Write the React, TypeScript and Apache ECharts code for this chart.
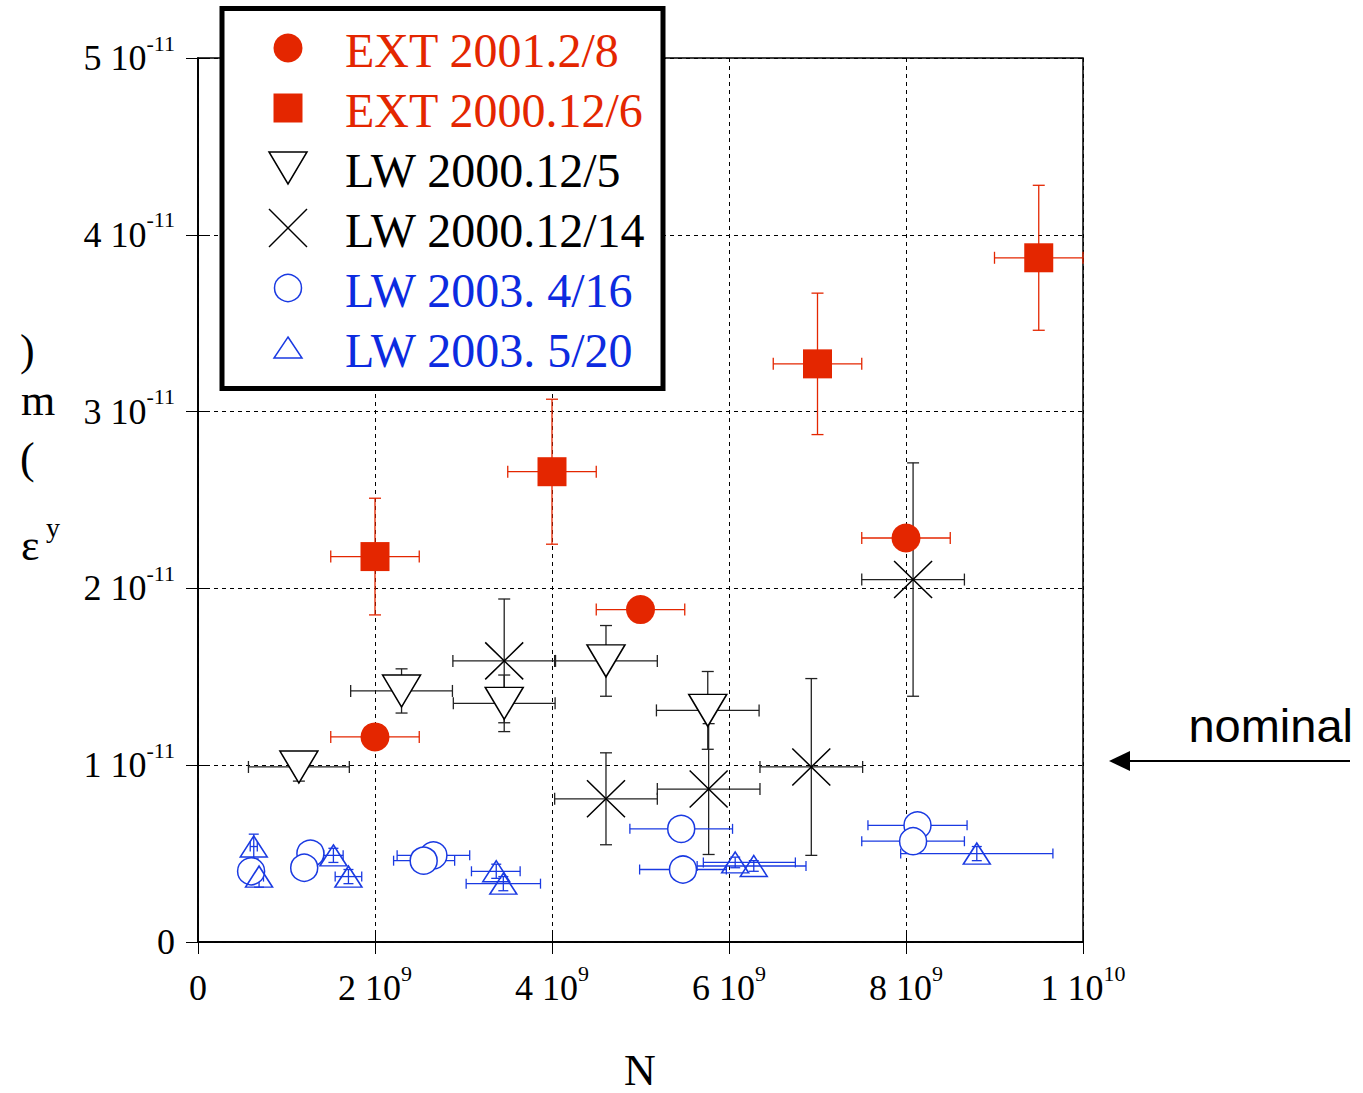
import React, { useEffect, useRef } from 'react';
import * as echarts from 'echarts';

// Units: N in 1e9 particles, emittance in 1e-11 m
const xTickValues = [0, 2, 4, 6, 8, 10];
const xTickMantissa = ['0', '2', '4', '6', '8', '1'];
const xTickExponent = ['', '9', '9', '9', '9', '10'];
const yTickValues = [0, 1, 2, 3, 4, 5];
const yTickMantissa = ['0', '1', '2', '3', '4', '5'];
const yTickExponent = ['', '-11', '-11', '-11', '-11', '-11'];

const legendNames = ['EXT 2001.2/8', 'EXT 2000.12/6', 'LW 2000.12/5', 'LW 2000.12/14', 'LW 2003. 4/16', 'LW 2003. 5/20'];

// EXT 2001.2/8
const ext2001N = [2.0, 5.0, 8.0];
const ext2001Eps = [1.16, 1.88, 2.285];
const ext2001NMinus = [0.5, 0.5, 0.5];
const ext2001NPlus = [0.5, 0.5, 0.5];
const ext2001EpsErr = [0, 0, 0];

// EXT 2000.12/6
const ext2000N = [2.0, 4.0, 7.0, 9.5];
const ext2000Eps = [2.18, 2.66, 3.27, 3.87];
const ext2000NMinus = [0.5, 0.5, 0.5, 0.5];
const ext2000NPlus = [0.5, 0.5, 0.5, 0.5];
const ext2000EpsErr = [0.33, 0.41, 0.4, 0.41];

// LW 2000.12/5
const lw5N = [1.14, 2.3, 3.46, 4.61, 5.76];
const lw5Eps = [0.99, 1.42, 1.35, 1.59, 1.31];
const lw5NMinus = [0.57, 0.575, 0.575, 0.58, 0.58];
const lw5NPlus = [0.57, 0.575, 0.575, 0.58, 0.58];
const lw5EpsErr = [0.08, 0.125, 0.16, 0.2, 0.22];

// LW 2000.12/14
const lw14N = [3.46, 4.61, 5.77, 6.93, 8.08];
const lw14Eps = [1.59, 0.81, 0.865, 0.99, 2.05];
const lw14NMinus = [0.58, 0.58, 0.58, 0.58, 0.58];
const lw14NPlus = [0.58, 0.58, 0.58, 0.58, 0.58];
const lw14EpsErr = [0.35, 0.26, 0.37, 0.5, 0.66];

// LW 2003. 4/16
const lw416N = [0.6, 1.27, 1.2, 2.66, 2.55, 5.46, 5.48, 8.13, 8.08];
const lw416Eps = [0.4, 0.5, 0.42, 0.49, 0.46, 0.64, 0.41, 0.66, 0.57];
const lw416NMinus = [0.05, 0.12, 0.12, 0.41, 0.34, 0.58, 0.49, 0.56, 0.58];
const lw416NPlus = [0.05, 0.12, 0.12, 0.41, 0.35, 0.58, 0.49, 0.56, 0.58];
const lw416EpsErr = [0.03, 0.03, 0.03, 0.03, 0.03, 0.03, 0.03, 0.03, 0.03];

// LW 2003. 5/20
const lw520N = [0.63, 0.69, 1.53, 1.7, 3.37, 3.45, 6.07, 6.28, 8.8];
const lw520Eps = [0.54, 0.37, 0.49, 0.37, 0.4, 0.33, 0.45, 0.43, 0.5];
const lw520NMinus = [0.04, 0.05, 0.11, 0.15, 0.28, 0.42, 0.36, 0.64, 0.86];
const lw520NPlus = [0.04, 0.05, 0.11, 0.15, 0.27, 0.42, 0.68, 0.59, 0.86];
const lw520EpsErr = [0.07, 0.06, 0.04, 0.04, 0.04, 0.04, 0.03, 0.03, 0.04];

const RED = '#e42600';
const BLUE = '#1a3ae2';
const BLUE_TEXT = '#0c2be0';
const BLACK = '#000000';
const SERIF = '"Liberation Serif", "Times New Roman", serif';

function errData(n: number[], eps: number[], nm: number[], np: number[], ee: number[]) {
  return n.map((v, i) => [v, eps[i], v - nm[i], v + np[i], eps[i] - ee[i], eps[i] + ee[i]]);
}

function errSeries(name: string, data: number[][], color: string, cap: number) {
  return {
    type: 'custom',
    name: name + ' err',
    z: 2,
    silent: true,
    encode: { x: [0, 2, 3], y: [1, 4, 5] },
    data,
    renderItem: (params: any, api: any) => {
      const x = api.value(0);
      const y = api.value(1);
      const l = api.coord([api.value(2), y]);
      const r = api.coord([api.value(3), y]);
      const b = api.coord([x, api.value(4)]);
      const t = api.coord([x, api.value(5)]);
      const style = { stroke: color, lineWidth: 1.3, fill: 'none' };
      const children: any[] = [];
      if (api.value(3) > api.value(2)) {
        children.push({ type: 'line', shape: { x1: l[0], y1: l[1], x2: r[0], y2: r[1] }, style });
        children.push({ type: 'line', shape: { x1: l[0], y1: l[1] - cap, x2: l[0], y2: l[1] + cap }, style });
        children.push({ type: 'line', shape: { x1: r[0], y1: r[1] - cap, x2: r[0], y2: r[1] + cap }, style });
      }
      if (api.value(5) > api.value(4)) {
        children.push({ type: 'line', shape: { x1: b[0], y1: b[1], x2: t[0], y2: t[1] }, style });
        children.push({ type: 'line', shape: { x1: b[0] - cap, y1: b[1], x2: b[0] + cap, y2: b[1] }, style });
        children.push({ type: 'line', shape: { x1: t[0] - cap, y1: t[1], x2: t[0] + cap, y2: t[1] }, style });
      }
      return { type: 'group', children };
    },
  };
}

function pts(n: number[], eps: number[]) {
  return n.map((v, i) => [v, eps[i]]);
}

const richLabel = {
  b: { fontFamily: SERIF, fontSize: 36, color: '#000', lineHeight: 52 },
  s: { fontFamily: SERIF, fontSize: 22, color: '#000', lineHeight: 20, verticalAlign: 'top' },
};

export default function App() {
  const ref = useRef<HTMLDivElement>(null);

  useEffect(() => {
    if (!ref.current) return;
    const chart = echarts.init(ref.current, undefined, { renderer: 'svg' });

    const rowY = [48, 108, 168, 228, 288, 348];
    const symX = 288;
    const textX = 345;
    const legendColors = [RED, RED, BLACK, BLACK, BLUE_TEXT, BLUE_TEXT];

    const legendGraphics: any[] = [
      {
        type: 'rect',
        z: 100,
        shape: { x: 222, y: 8.5, width: 441, height: 380 },
        style: { fill: '#fff', stroke: '#000', lineWidth: 5 },
      },
      { type: 'circle', z: 101, shape: { cx: symX, cy: rowY[0], r: 14.5 }, style: { fill: RED } },
      { type: 'rect', z: 101, shape: { x: symX - 14.5, y: rowY[1] - 14.5, width: 29, height: 29 }, style: { fill: RED } },
      {
        type: 'polygon', z: 101,
        shape: { points: [[symX - 19, rowY[2] - 16], [symX + 19, rowY[2] - 16], [symX, rowY[2] + 16]] },
        style: { fill: '#fff', stroke: BLACK, lineWidth: 1.5 },
      },
      { type: 'line', z: 101, shape: { x1: symX - 19, y1: rowY[3] - 19, x2: symX + 19, y2: rowY[3] + 19 }, style: { stroke: BLACK, lineWidth: 1.5 } },
      { type: 'line', z: 101, shape: { x1: symX + 19, y1: rowY[3] - 19, x2: symX - 19, y2: rowY[3] + 19 }, style: { stroke: BLACK, lineWidth: 1.5 } },
      { type: 'circle', z: 101, shape: { cx: symX, cy: rowY[4], r: 13.5 }, style: { fill: '#fff', stroke: BLUE, lineWidth: 1.5 } },
      {
        type: 'polygon', z: 101,
        shape: { points: [[symX, rowY[5] - 11], [symX + 14, rowY[5] + 10], [symX - 14, rowY[5] + 10]] },
        style: { fill: '#fff', stroke: BLUE, lineWidth: 1.5 },
      },
      ...legendNames.map((nm, i) => ({
        type: 'text',
        z: 101,
        x: textX,
        y: rowY[i] + 2,
        style: { text: nm, fontFamily: SERIF, fontSize: 48, fill: legendColors[i], align: 'left', verticalAlign: 'middle' },
      })),
    ];

    const titleGraphics: any[] = [
      { type: 'text', x: 20, y: 350, style: { text: ')', fontFamily: SERIF, fontSize: 44, fill: '#000', verticalAlign: 'middle' } },
      { type: 'text', x: 21, y: 400, style: { text: 'm', fontFamily: SERIF, fontSize: 44, fill: '#000', verticalAlign: 'middle' } },
      { type: 'text', x: 20, y: 458, style: { text: '(', fontFamily: SERIF, fontSize: 44, fill: '#000', verticalAlign: 'middle' } },
      { type: 'text', x: 21, y: 545, style: { text: 'ε', fontFamily: SERIF, fontSize: 44, fill: '#000', verticalAlign: 'middle' } },
      { type: 'text', x: 46, y: 527, style: { text: 'y', fontFamily: SERIF, fontSize: 28, fill: '#000', verticalAlign: 'middle' } },
      { type: 'text', x: 640, y: 1070, style: { text: 'N', fontFamily: SERIF, fontSize: 44, fill: '#000', align: 'center', verticalAlign: 'middle' } },
      { type: 'text', x: 1353, y: 725, style: { text: 'nominal', fontFamily: '"Liberation Sans", Arial, sans-serif', fontSize: 47, fill: '#000', align: 'right', verticalAlign: 'middle' } },
      { type: 'line', shape: { x1: 1350, y1: 761, x2: 1125, y2: 761 }, style: { stroke: '#000', lineWidth: 2 } },
      { type: 'polygon', shape: { points: [[1109, 761], [1130, 751], [1130, 771]] }, style: { fill: '#000' } },
    ];

    const xFmt = (v: number) => {
      const i = xTickValues.indexOf(Math.round(v));
      if (i < 0) return '';
      return xTickExponent[i] ? `{b|${xTickMantissa[i]} 10}{s|${xTickExponent[i]}}` : `{b|${xTickMantissa[i]}}`;
    };
    const yFmt = (v: number) => {
      const i = yTickValues.indexOf(Math.round(v));
      if (i < 0) return '';
      return yTickExponent[i] ? `{b|${yTickMantissa[i]} 10}{s|${yTickExponent[i]}}` : `{b|${yTickMantissa[i]}}`;
    };

    const splitLine = { show: true, lineStyle: { color: '#000', width: 1, type: [4, 4] } };

    chart.setOption({
      animation: false,
      backgroundColor: '#fff',
      grid: { left: 198, right: 280, top: 58, bottom: 151, show: true, borderColor: '#000', borderWidth: 1.5, backgroundColor: 'transparent' },
      xAxis: [
        {
          type: 'value', min: 0, max: 10, interval: 2,
          axisLine: { show: true, lineStyle: { color: '#000', width: 1.5 } },
          axisTick: { show: true, inside: true, length: 12, lineStyle: { color: '#000' } },
          axisLabel: { formatter: xFmt, rich: richLabel, margin: 20 },
          splitLine,
        },
        {
          type: 'value', min: 0, max: 10, interval: 2, position: 'top',
          axisLine: { show: true, lineStyle: { color: '#000', width: 1.5 } },
          axisTick: { show: true, inside: true, length: 12, lineStyle: { color: '#000' } },
          axisLabel: { show: false }, splitLine: { show: false },
        },
      ],
      yAxis: [
        {
          type: 'value', min: 0, max: 5, interval: 1,
          axisLine: { show: true, lineStyle: { color: '#000', width: 1.5 } },
          axisTick: { show: true, inside: true, length: 12, lineStyle: { color: '#000' } },
          axisLabel: { formatter: yFmt, rich: richLabel, margin: 23 },
          splitLine,
        },
        {
          type: 'value', min: 0, max: 5, interval: 1, position: 'right',
          axisLine: { show: true, lineStyle: { color: '#000', width: 1.5 } },
          axisTick: { show: true, inside: true, length: 12, lineStyle: { color: '#000' } },
          axisLabel: { show: false }, splitLine: { show: false },
        },
      ],
      graphic: [...titleGraphics, ...legendGraphics],
      series: [
        errSeries(legendNames[0], errData(ext2001N, ext2001Eps, ext2001NMinus, ext2001NPlus, ext2001EpsErr), RED, 6),
        errSeries(legendNames[1], errData(ext2000N, ext2000Eps, ext2000NMinus, ext2000NPlus, ext2000EpsErr), RED, 6),
        errSeries(legendNames[2], errData(lw5N, lw5Eps, lw5NMinus, lw5NPlus, lw5EpsErr), '#222', 6),
        errSeries(legendNames[3], errData(lw14N, lw14Eps, lw14NMinus, lw14NPlus, lw14EpsErr), '#222', 6),
        errSeries(legendNames[4], errData(lw416N, lw416Eps, lw416NMinus, lw416NPlus, lw416EpsErr), BLUE, 5),
        errSeries(legendNames[5], errData(lw520N, lw520Eps, lw520NMinus, lw520NPlus, lw520EpsErr), BLUE, 5),
        {
          type: 'scatter', name: legendNames[4], z: 3, data: pts(lw416N, lw416Eps),
          symbol: 'circle', symbolSize: 27,
          itemStyle: { color: '#fff', borderColor: BLUE, borderWidth: 1.5, opacity: 1 },
        },
        {
          type: 'scatter', name: legendNames[5], z: 3, data: pts(lw520N, lw520Eps),
          symbol: 'path://M14,0L28,22L0,22Z', symbolSize: [27, 21], symbolKeepAspect: false,
          itemStyle: { color: 'rgba(255,255,255,0)', borderColor: BLUE, borderWidth: 1.5, opacity: 1 },
        },
        {
          type: 'scatter', name: legendNames[2], z: 3, data: pts(lw5N, lw5Eps),
          symbol: 'path://M0,0L38,0L19,32Z', symbolSize: [38, 32],
          itemStyle: { color: '#fff', borderColor: BLACK, borderWidth: 1.5, opacity: 1 },
        },
        {
          type: 'scatter', name: legendNames[3], z: 3, data: pts(lw14N, lw14Eps),
          symbol: 'path://M0,0L38,37M38,0L0,37', symbolSize: [38, 37],
          itemStyle: { color: 'rgba(0,0,0,0)', borderColor: BLACK, borderWidth: 1.5, opacity: 1 },
        },
        {
          type: 'scatter', name: legendNames[0], z: 3, data: pts(ext2001N, ext2001Eps),
          symbol: 'circle', symbolSize: 29,
          itemStyle: { color: RED, opacity: 1 },
        },
        {
          type: 'scatter', name: legendNames[1], z: 3, data: pts(ext2000N, ext2000Eps),
          symbol: 'rect', symbolSize: 29,
          itemStyle: { color: RED, opacity: 1 },
        },
      ],
    });

    return () => chart.dispose();
  }, []);

  return <div ref={ref} style={{ position: 'absolute', left: 0, top: 0, width: 1363, height: 1093 }} />;
}
